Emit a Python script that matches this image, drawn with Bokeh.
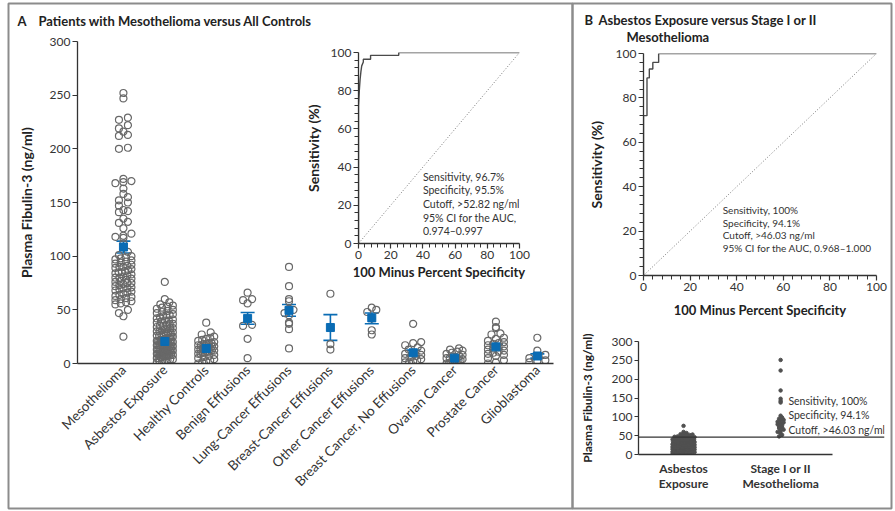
import numpy as np
from bokeh.plotting import figure
from bokeh.models import Range1d, FixedTicker, Span, ColumnDataSource, Whisker, TeeHead
from bokeh.core.properties import value
from bokeh.embed import file_html
from bokeh.resources import INLINE

FONT = "Lato"
INK = "#333333"
DOT = "#686868"
BLUE = "#0a6cb4"
FRAME = "#8c8c8c"

# ---------------- Panel A data: plasma fibulin-3 (ng/ml) by group ----------------
groups = ["Mesothelioma", "Asbestos Exposure", "Healthy Controls", "Benign Effusions",
          "Lung-Cancer Effusions", "Breast-Cancer Effusions", "Other Cancer Effusions",
          "Breast Cancer, No Effusions", "Ovarian Cancer", "Prostate Cancer", "Glioblastoma"]

meso = [252, 247, 229, 227, 222, 219, 216, 213, 212, 201, 200, 172, 170, 169, 168, 163,
        158, 155, 152, 150, 147, 143, 142, 141, 135, 132, 131, 126, 121, 119, 118, 117,
        112, 104, 101, 100, 99, 98, 97, 96, 95, 94, 93, 92, 91, 90, 90, 89, 88, 87, 86,
        85, 85, 84, 83, 82, 81, 80, 80, 79, 78, 77, 76, 75, 75, 74, 73, 72, 71, 70, 70,
        69, 68, 67, 66, 65, 64, 63, 62, 61, 60, 59, 58, 57, 56, 55, 50, 47, 44, 25]
asbestos = [76, 60, 57, 55, 54, 53, 52, 51, 50, 49, 48, 47, 46, 45, 45, 44, 43, 42, 41,
            40, 40, 39, 38, 37, 37, 36, 35, 35, 34, 33, 33, 32, 32, 31, 30, 30, 29, 29,
            28, 28, 27, 27, 26, 26, 25, 25, 24, 24, 24, 23, 23, 22, 22, 22, 21, 21, 21,
            20, 20, 20, 19, 19, 19, 18, 18, 18, 17, 17, 17, 16, 16, 16, 15, 15, 15, 14,
            14, 14, 13, 13, 13, 12, 12, 12, 11, 11, 11, 10, 10, 10, 9, 9, 9, 8, 8, 8, 7,
            7, 7, 6, 6, 5, 5, 4, 4, 3, 3, 2, 2, 1]
healthy = [38, 29, 27, 25, 24, 23, 22, 21, 20, 19, 19, 18, 18, 17, 17, 16, 16, 15, 15,
           14, 14, 13, 13, 12, 12, 11, 11, 10, 10, 9, 9, 8, 7, 6, 5, 4, 3, 2, 1, 0]
benign = [66, 60, 59, 56, 36, 35, 23, 5]
lung = [90, 72, 60, 58, 51, 50, 47, 45, 38, 37, 32, 14]
breast_eff = [65, 18, 13]
other_eff = [52, 50, 48, 42, 31, 27]
breast_no = [37, 20, 19, 17, 15, 13, 12, 10, 9, 8, 7, 6, 5, 4, 3, 2, 1, 1]
ovarian = [14, 13, 12, 11, 10, 9, 8, 7, 6, 6, 5, 5, 4, 3, 3, 2, 2, 1, 1, 0, 0]
prostate = [39, 34, 33, 28, 27, 24, 23, 21, 20, 19, 18, 17, 16, 15, 14, 13, 12, 11, 10,
            9, 8, 7, 5, 3, 1, 0]
glioblastoma = [24, 12, 8, 7, 5, 3, 2, 1]
group_values = [meso, asbestos, healthy, benign, lung, breast_eff, other_eff,
                breast_no, ovarian, prostate, glioblastoma]

# mean and standard-error limits for each group
means = [108.5, 20.5, 14.0, 42.0, 49.5, 33.5, 42.5, 10.0, 5.0, 15.5, 7.0]
sem_lo = [103.0, 19.0, 12.5, 36.5, 44.0, 21.5, 37.0, 7.5, 3.5, 13.0, 5.0]
sem_hi = [114.0, 22.0, 15.5, 47.5, 55.0, 45.5, 47.0, 12.5, 6.5, 18.0, 9.0]

fib_ticks = [0, 50, 100, 150, 200, 250, 300]
roc_ticks = [0, 20, 40, 60, 80, 100]

# ROC, all mesothelioma vs all controls
roc_a_fpr = [0, 0, 0.5, 1.0, 1.5, 2.0, 3.0, 3.0, 7.5, 7.5, 25, 25, 100]
roc_a_tpr = [0, 72, 80, 86, 90, 93, 95, 96.5, 96.5, 98.5, 98.5, 100, 100]
stats_a = ["Sensitivity, 96.7%", "Specificity, 95.5%", "Cutoff, >52.82 ng/ml",
           "95% CI for the AUC,", "0.974\u20130.997"]

# ---------------- Panel B data ----------------
roc_b_fpr = [0, 0, 1.5, 1.5, 2.5, 2.5, 4.0, 4.0, 6.5, 6.5, 100]
roc_b_tpr = [0, 72, 72, 89, 89, 93, 93, 96, 96, 100, 100]
stats_b = ["Sensitivity, 100%", "Specificity, 94.1%", "Cutoff, >46.03 ng/ml",
           "95% CI for the AUC, 0.968\u20131.000"]
cutoff_b = 46.03
b_groups = ["Asbestos\nExposure", "Stage I or II\nMesothelioma"]
stage12 = [251, 223, 170, 148, 142, 138, 103, 98, 95, 92, 90, 87, 85, 82, 80, 78, 75,
           72, 70, 66, 63, 60, 56, 52, 48]


def swarm(vals, center, px_per_y, px_per_x, step_px, half_px, bin_px):
    """Spread points sideways within rows of similar value."""
    ys = np.asarray(vals, dtype=float)
    xs = np.zeros_like(ys)
    bins = np.floor(ys * px_per_y / bin_px)
    for b in np.unique(bins):
        idx = np.where(bins == b)[0]
        idx = idx[np.argsort(ys[idx])]
        n = len(idx)
        if n == 1:
            offs = np.array([0.0])
        else:
            sp = min(step_px, 2 * half_px / (n - 1))
            offs = (np.arange(n) - (n - 1) / 2) * sp
        xs[idx] = center + offs / px_per_x
    return xs, ys


def style(p):
    p.grid.visible = False
    p.outline_line_color = None
    p.background_fill_color = None
    p.border_fill_color = None
    for ax in p.axis:
        ax.axis_line_color = INK
        ax.axis_line_width = 1.3
        ax.major_tick_line_color = INK
        ax.minor_tick_line_color = INK
        ax.major_tick_line_width = 1.2
        ax.major_tick_in = 0
        ax.minor_tick_in = 0
        ax.major_tick_out = 5
        ax.minor_tick_out = 4
        ax.major_label_standoff = 2
        ax.major_label_text_font = FONT
        ax.major_label_text_font_size = "12px"
        ax.major_label_text_color = INK
        ax.axis_label_text_font = FONT
        ax.axis_label_text_font_style = "bold"
        ax.axis_label_text_font_size = "13px"
        ax.axis_label_text_color = "#222222"


def make_fig(frame_left, frame_top, fw, fh, xr, yr, mb):
    """A transparent figure whose plot frame sits at a fixed spot of the page."""
    ml, mt, mr, mbt = mb
    p = figure(frame_width=fw, frame_height=fh, x_range=xr, y_range=yr,
               min_border_left=ml, min_border_top=mt, min_border_right=mr,
               min_border_bottom=mbt, toolbar_location=None, output_backend="svg")
    p.styles = {"position": "absolute", "left": f"{frame_left - ml}px",
                "top": f"{frame_top - mt}px"}
    style(p)
    return p


# ---------------- background: panel frames and titles ----------------
bg = figure(width=895, height=511, x_range=Range1d(0, 895), y_range=Range1d(511, 0),
            min_border=0, toolbar_location=None, output_backend="svg",
            x_axis_location=None, y_axis_location=None)
bg.styles = {"position": "absolute", "left": "0px", "top": "0px"}
bg.grid.visible = False
bg.outline_line_color = None
bg.background_fill_color = "white"
bg.border_fill_color = "white"
bg.quad(left=[8, 572], right=[572, 891], top=[3, 3], bottom=[508, 508],
        fill_alpha=0, line_color=FRAME, line_width=2)
title_kw = dict(text_font=value(FONT), text_font_style="bold", text_font_size="13px",
                text_baseline="middle", text_color="#222222")
bg.text(x=[17, 584], y=[20, 19], text=["A", "B"], **title_kw)
bg.text(x=[38, 598, 626], y=[20, 19, 36],
        text=["Patients with Mesothelioma versus All Controls",
              "Asbestos Exposure versus Stage I or II", "Mesothelioma"], **title_kw)

# ---------------- Panel A: scatter by group ----------------
xr_a = Range1d(-1.11, 10.39)
fwA, fhA = 476, 322
sa = make_fig(77, 41, fwA, fhA, xr_a, Range1d(0, 300), (70, 31, 12, 140))
pxy = fhA / 300.0
pxx = fwA / (xr_a.end - xr_a.start)
for i, vals in enumerate(group_values):
    xs, ys = swarm(vals, i, pxy, pxx, step_px=9, half_px=8, bin_px=4.5)
    sa.scatter(xs, ys, marker="circle", size=7, fill_color=None, line_color=DOT,
               line_width=1.2)
wsrc = ColumnDataSource(dict(x=list(range(len(groups))), lo=sem_lo, hi=sem_hi, m=means))
sa.add_layout(Whisker(source=wsrc, base="x", upper="hi", lower="lo", line_color=BLUE,
                      line_width=1.6,
                      upper_head=TeeHead(size=14, line_color=BLUE, line_width=1.6),
                      lower_head=TeeHead(size=14, line_color=BLUE, line_width=1.6)))
sa.scatter("x", "m", source=wsrc, marker="square", size=8, color=BLUE)
sa.yaxis.ticker = FixedTicker(ticks=fib_ticks)
sa.yaxis.axis_label = "Plasma Fibulin-3 (ng/ml)"
sa.yaxis.axis_label_standoff = 12
sa.yaxis.axis_label_text_font_size = "14px"
sa.xaxis.ticker = FixedTicker(ticks=list(range(len(groups))))
sa.xaxis.major_label_overrides = {i: g for i, g in enumerate(groups)}
sa.xaxis.major_label_orientation = np.pi / 4
sa.xaxis.major_tick_out = 0
sa.xaxis.major_label_standoff = 4
sa.xaxis.major_label_text_font_size = "13.5px"

# ---------------- Panel A inset: ROC ----------------
ra = make_fig(358, 52, 161, 191, Range1d(0, 100), Range1d(0, 100), (70, 8, 16, 50))
ra.line([0, 100], [0, 100], line_color="#777777", line_width=1, line_dash="1 2")
ra.line(roc_a_fpr, roc_a_tpr, line_color="#4a4a4a", line_width=1.4)
for k, s in enumerate(stats_a):
    ra.text(x=[40], y=[35], text=[s], y_offset=k * 13.7, text_font=value(FONT),
            text_font_size="10.5px", text_baseline="middle", text_color=INK)
for ax in ra.axis:
    ax.ticker = FixedTicker(ticks=roc_ticks,
                            minor_ticks=[v for v in range(0, 101, 4) if v % 20])
ra.xaxis.axis_label = "100 Minus Percent Specificity"
ra.yaxis.axis_label = "Sensitivity (%)"
ra.xaxis.axis_label_standoff = 2
ra.yaxis.axis_label_standoff = 6
ra.yaxis.axis_label_text_font_size = "14px"

# ---------------- Panel B: ROC ----------------
rb = make_fig(643, 53, 233, 222, Range1d(0, 100), Range1d(0, 100), (70, 8, 18, 50))
rb.line([0, 100], [0, 100], line_color="#777777", line_width=1, line_dash="1 2")
rb.line(roc_b_fpr, roc_b_tpr, line_color="#4a4a4a", line_width=1.4)
for k, s in enumerate(stats_b):
    rb.text(x=[34], y=[29.3], text=[s], y_offset=k * 12.5, text_font=value(FONT),
            text_font_size="10px", text_baseline="middle", text_color=INK)
for ax in rb.axis:
    ax.ticker = FixedTicker(ticks=roc_ticks,
                            minor_ticks=[v for v in range(0, 101, 4) if v % 20])
rb.xaxis.axis_label = "100 Minus Percent Specificity"
rb.yaxis.axis_label = "Sensitivity (%)"
rb.xaxis.axis_label_standoff = 8
rb.yaxis.axis_label_standoff = 8
rb.yaxis.axis_label_text_font_size = "14px"

# ---------------- Panel B: asbestos vs stage I/II scatter ----------------
xr_b = Range1d(-0.464, 2.07)
fwB, fhB = 246, 113
sb = make_fig(638, 341, fwB, fhB, xr_b, Range1d(0, 300), (70, 20, 10, 52))
pyb = fhB / 300.0
pxb = fwB / (xr_b.end - xr_b.start)
for i, vals in enumerate([asbestos, stage12]):
    xs, ys = swarm(vals, i, pyb, pxb, step_px=3.0, half_px=11 if i == 0 else 4,
                   bin_px=2.5)
    sb.scatter(xs, ys, marker="circle", size=3.5, color="#505050")
sb.add_layout(Span(location=cutoff_b, dimension="width", line_color=INK, line_width=1.2))
for k, s in enumerate(stats_b[:3]):
    sb.text(x=[1.08], y=[143], text=[s], y_offset=k * 14.5, text_font=value(FONT),
            text_font_size="10.5px", text_baseline="middle", text_color=INK)
sb.yaxis.ticker = FixedTicker(ticks=fib_ticks)
sb.yaxis.axis_label = "Plasma Fibulin-3 (ng/ml)"
sb.yaxis.axis_label_standoff = 14
sb.yaxis.axis_label_text_font_size = "12px"
sb.yaxis.major_tick_out = 4
sb.xaxis.ticker = FixedTicker(ticks=[0, 1])
sb.xaxis.major_label_overrides = {0: b_groups[0], 1: b_groups[1]}
sb.xaxis.major_tick_out = 0
sb.xaxis.bounds = (-0.464, 1.536)
sb.xaxis.major_label_standoff = 6
sb.xaxis.major_label_text_font_style = "bold"
sb.xaxis.major_label_text_font_size = "12px"
sb.xaxis.major_label_text_line_height = 1.05

# every panel is its own root so each keeps its own plot-frame geometry
open("out.html", "w").write(file_html([bg, sa, ra, rb, sb], INLINE))
